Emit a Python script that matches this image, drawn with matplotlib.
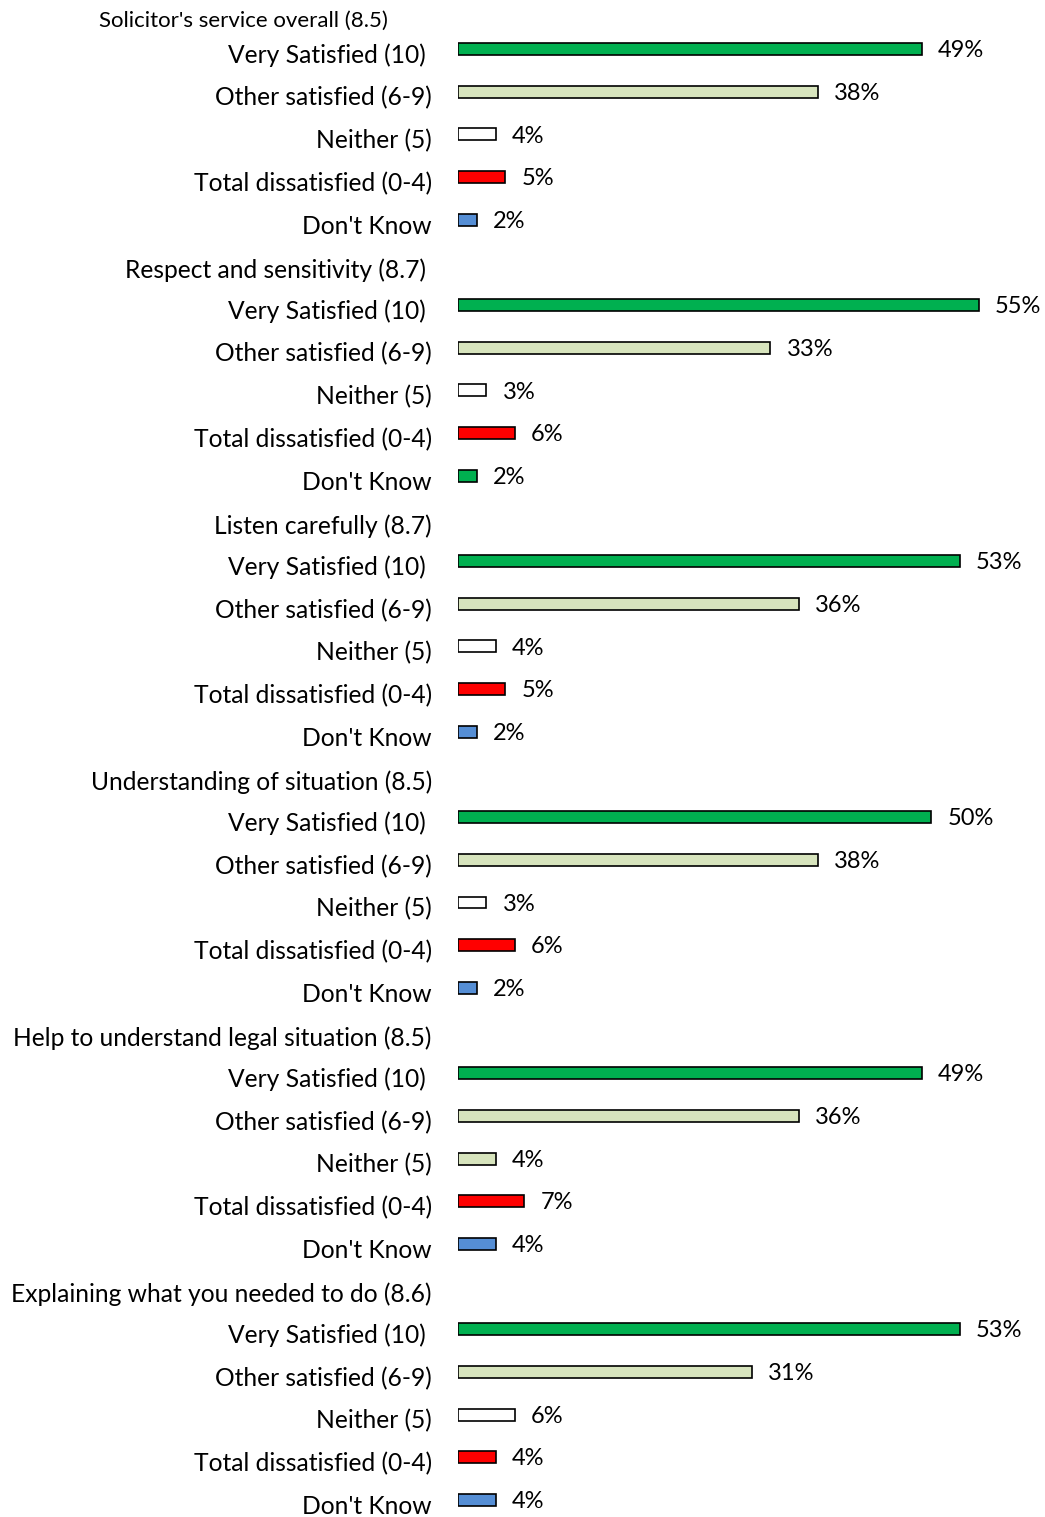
import matplotlib
matplotlib.use("Agg")
import matplotlib.pyplot as plt

plt.rcParams['font.family'] = ['Lato', 'DejaVu Sans']

groups = [
    "Solicitor's service overall (8.5)",
    "Respect and sensitivity (8.7) ",
    "Listen carefully (8.7)",
    "Understanding of situation (8.5)",
    "Help to understand legal situation (8.5)",
    "Explaining what you needed to do (8.6)",
]
categories = [
    "Very Satisfied (10) ",
    "Other satisfied (6-9)",
    "Neither (5)",
    "Total dissatisfied (0-4)",
    "Don't Know",
]
values = [
    [49, 38, 4, 5, 2],
    [55, 33, 3, 6, 2],
    [53, 36, 4, 5, 2],
    [50, 38, 3, 6, 2],
    [49, 36, 4, 7, 4],
    [53, 31, 6, 4, 4],
]

GREEN = "#00B050"
LIGHT = "#D7E4BD"
WHITE = "#FFFFFF"
RED = "#FF0000"
BLUE = "#558ED5"
bar_colors = [
    [GREEN, LIGHT, WHITE, RED, BLUE],
    [GREEN, LIGHT, WHITE, RED, GREEN],
    [GREEN, LIGHT, WHITE, RED, BLUE],
    [GREEN, LIGHT, WHITE, RED, BLUE],
    [GREEN, LIGHT, LIGHT, RED, BLUE],
    [GREEN, LIGHT, WHITE, RED, BLUE],
]

W, H = 1045, 1517
fig = plt.figure(figsize=(W / 100, H / 100), dpi=100)
x0 = 458 / W
ax = fig.add_axes([x0, 0, 1 - x0, 1])
ax.set_xlim(0, 62)
ax.set_ylim(35.40, -0.148)
ax.axis('off')

rows_per_group = len(categories) + 1
label_x = -2.76
FS = 17.7
for g, (title, vals, cols) in enumerate(zip(groups, values, bar_colors)):
    base = g * rows_per_group
    if g == 0:
        ax.text(-7.4, base + 0.34, title, ha='right', va='center',
                fontsize=16.0, color='black', clip_on=False)
    else:
        ax.text(label_x, base + 0.18, title, ha='right', va='center',
                fontsize=FS, color='black', clip_on=False)
    for i, (cat, v, c) in enumerate(zip(categories, vals, cols)):
        y = base + 1 + i
        ax.barh(y, v, height=0.28, color=c, edgecolor='black', linewidth=1.2)
        ax.text(label_x, y + 0.15, cat, ha='right', va='center',
                fontsize=FS, color='black', clip_on=False)
        ax.text(v + 1.7, y + 0.04, f"{v}%", ha='left', va='center',
                fontsize=17.0, color='black', clip_on=False)

fig.savefig("out.png", dpi=100)
